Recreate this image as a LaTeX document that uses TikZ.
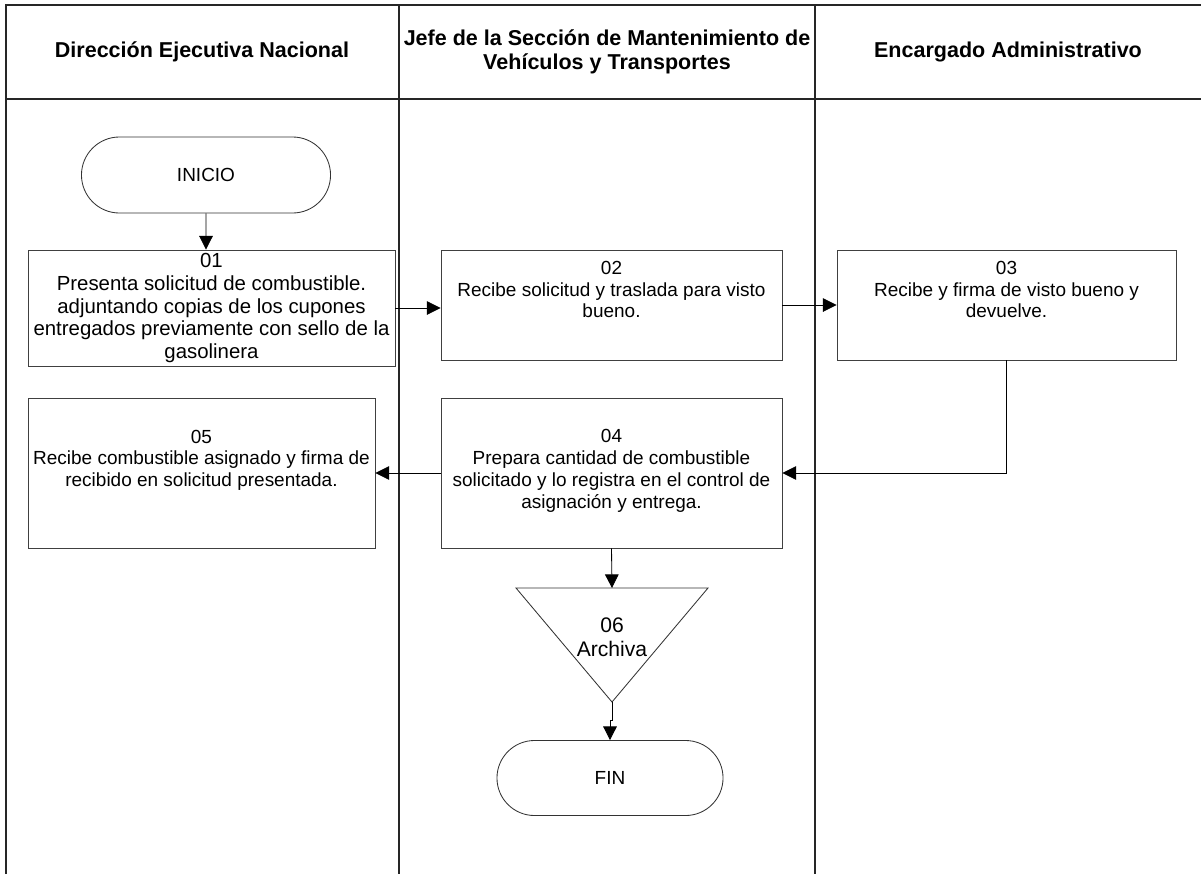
\documentclass[tikz,border=0pt]{standalone}
\usepackage{fontspec}
\setmainfont{Liberation Sans}
\usetikzlibrary{arrows.meta,shapes.misc}

\begin{document}
\begin{tikzpicture}[x=0.025cm,y=-0.025cm,->,>={Triangle[length=0.34cm,width=0.34cm]},line width=0.6pt]
      \tikzstyle{lane}=[-,line width=1pt,draw=black!85]
      \tikzstyle{head}=[font=\fontsize{15.3}{17.5}\selectfont\bfseries,align=center]
      \tikzstyle{paso}=[draw=black!75,rectangle,inner sep=0pt,align=center,font=\fontsize{13.5}{15.5}\selectfont]
      \tikzstyle{term}=[draw=black!80,rounded rectangle,inner sep=0pt,font=\fontsize{13.5}{15.5}\selectfont]

      \useasboundingbox (0,0) rectangle (1201,874);
      % carriles
      \draw[lane] (6,874) -- (6,5) -- (1201,5);
      \draw[lane] (6,99) -- (1201,99);
      \draw[lane] (399,5) -- (399,874);
      \draw[lane] (815,5) -- (815,874);

      \node[head] (h1) at (202,52) {Dirección Ejecutiva Nacional};
      \node[head] (h2) at (607,52) {Jefe de la Sección de Mantenimiento de\\Vehículos y Transportes};
      \node[head] (h3) at (1008,52) {Encargado Administrativo};

      \node[term,minimum width=6.225cm,minimum height=1.9cm] (ini) at (206,175) {INICIO};
      \node[paso,minimum width=9.175cm,minimum height=2.9cm,text depth=3pt,font=\fontsize{14.5}{16.2}\selectfont] (b1) at (211.5,308) {01\\Presenta solicitud de combustible.\\adjuntando copias de los cupones\\entregados previamente con sello de la\\gasolinera};
      \node[paso,minimum width=8.525cm,minimum height=2.75cm,text depth=22pt] (b2) at (611.5,305) {02\\Recibe solicitud y traslada para visto\\bueno.};
      \node[paso,minimum width=8.475cm,minimum height=2.75cm,text depth=22pt] (b3) at (1006.5,305) {03\\Recibe y firma de visto bueno y\\devuelve.};
      \node[paso,minimum width=8.525cm,minimum height=3.75cm,text depth=6pt] (b4) at (611.5,473) {04\\Prepara cantidad de combustible\\solicitado y lo registra en el control de\\asignación y entrega.};
      \node[paso,minimum width=8.675cm,minimum height=3.75cm,text depth=21pt] (b5) at (201.5,473) {05\\Recibe combustible asignado y firma de\\recibido en solicitud presentada.};

      % archivo
      \coordinate (t6a) at (612,588);
      \coordinate (t6l) at (516,588);
      \coordinate (t6r) at (708,588);
      \coordinate (t6c) at (612,702);
      \draw[-,draw=black!80] (t6l) -- (t6r) -- (t6c) -- cycle;
      \node[align=center,font=\fontsize{15}{17}\selectfont] (a6) at (612,637) {06\\Archiva};

      \node[term,minimum width=5.65cm,minimum height=1.875cm] (fin) at (610,778) {FIN};

      \draw (ini) -- (ini.south |- b1.north);
      \draw (b1.east) -- (b1.east -| b2.west);
      \draw (b2) -- (b3);
      \draw (b3.south) |- (b4.east);
      \draw (b4) -- (b5);
      \draw (b4.south) -- (t6a);
      \draw (t6c) -- ++(0,18) -| (fin.north);
\end{tikzpicture}
\end{document}
